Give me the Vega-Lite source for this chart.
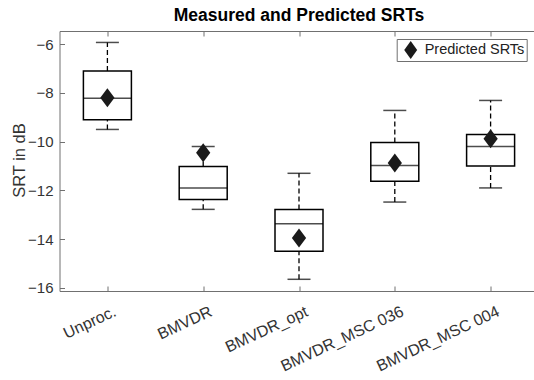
{
  "$schema": "https://vega.github.io/schema/vega-lite/v6.json",
  "width": 479,
  "height": 260,
  "autosize": "none",
  "padding": {"left": 59.5, "top": 31, "right": 0, "bottom": 89},
  "background": "white",
  "title": {"text": "Measured and Predicted SRTs", "fontSize": 17.5, "fontWeight": "bold", "font": "Liberation Sans", "color": "#000000", "anchor": "middle", "offset": 6.5},
  "data": {"values": [
    {"cat": "Unproc.", "lower": -9.5, "q1": -9.1, "median": -8.22, "q3": -7.1, "upper": -5.93, "pred": -8.2},
    {"cat": "BMVDR", "lower": -12.78, "q1": -12.38, "median": -11.9, "q3": -11.02, "upper": -10.2, "pred": -10.46},
    {"cat": "BMVDR_opt", "lower": -15.65, "q1": -14.5, "median": -13.37, "q3": -12.79, "upper": -11.3, "pred": -13.96},
    {"cat": "BMVDR_MSC 036", "lower": -12.48, "q1": -11.63, "median": -10.98, "q3": -10.04, "upper": -8.72, "pred": -10.88},
    {"cat": "BMVDR_MSC 004", "lower": -11.9, "q1": -11.0, "median": -10.2, "q3": -9.71, "upper": -8.31, "pred": -9.88}
  ]},
  "resolve": {"axis": {"x": "independent", "y": "independent"}},
  "layer": [
    {
      "mark": {"type": "rule", "stroke": "#000000", "strokeWidth": 1.3, "strokeDash": [5, 3]},
      "encoding": {
        "x": {"field": "cat", "type": "nominal", "sort": null,
              "scale": {"type": "point", "padding": 0.5},
              "axis": {"orient": "bottom", "title": null, "labelAngle": -25, "labelAlign": "right", "labelBaseline": "top",
                       "labelFont": "Liberation Sans", "labelFontSize": 16, "labelColor": "#333333", "labelOffset": 4,
                       "tickSize": -5, "tickColor": "#707070", "domainColor": "#707070", "labelPadding": 17}},
        "y": {"field": "lower", "type": "quantitative",
              "scale": {"domain": [-16.13, -5.46], "nice": false, "zero": false},
              "axis": {"orient": "left", "values": [-16, -14, -12, -10, -8, -6], "grid": false,
                       "title": "SRT in dB", "titleFont": "Liberation Sans", "titleFontSize": 16.5, "titleFontWeight": "normal", "titleColor": "#333333",
                       "titleX": -40.5, "titleY": 129, "titleBaseline": "middle", "titleAngle": -90,
                       "labelFont": "Liberation Sans", "labelFontSize": 15, "labelColor": "#333333",
                       "tickSize": -5, "tickColor": "#707070", "domainColor": "#707070", "labelPadding": 11.5}},
        "y2": {"field": "q1"}
      }
    },
    {
      "mark": {"type": "rule", "stroke": "#000000", "strokeWidth": 1.3, "strokeDash": [5, 3]},
      "encoding": {
        "x": {"field": "cat", "type": "nominal", "sort": null,
              "axis": {"orient": "top", "title": null, "labels": false, "tickSize": -5, "tickColor": "#707070", "domainColor": "#707070"}},
        "y": {"field": "q3", "type": "quantitative",
              "axis": {"orient": "right", "title": null, "labels": false, "values": [-16, -14, -12, -10, -8, -6], "grid": false, "tickSize": -5, "tickColor": "#707070", "domainColor": "#707070"}},
        "y2": {"field": "upper"}
      }
    },
    {
      "mark": {"type": "tick", "color": "#000000", "size": 23, "thickness": 1.5, "orient": "horizontal"},
      "encoding": {
        "x": {"field": "cat", "type": "nominal", "sort": null, "axis": null},
        "y": {"field": "lower", "type": "quantitative", "axis": null}
      }
    },
    {
      "mark": {"type": "tick", "color": "#000000", "size": 23, "thickness": 1.5, "orient": "horizontal"},
      "encoding": {
        "x": {"field": "cat", "type": "nominal", "sort": null, "axis": null},
        "y": {"field": "upper", "type": "quantitative", "axis": null}
      }
    },
    {
      "mark": {"type": "bar", "fill": "white", "stroke": "#000000", "strokeWidth": 1.5, "size": 48},
      "encoding": {
        "x": {"field": "cat", "type": "nominal", "sort": null, "axis": null},
        "y": {"field": "q1", "type": "quantitative", "axis": null},
        "y2": {"field": "q3"}
      }
    },
    {
      "mark": {"type": "tick", "color": "#000000", "size": 48, "thickness": 1.5, "orient": "horizontal"},
      "encoding": {
        "x": {"field": "cat", "type": "nominal", "sort": null, "axis": null},
        "y": {"field": "median", "type": "quantitative", "axis": null}
      }
    },
    {
      "mark": {"type": "point", "filled": true, "opacity": 1, "size": 361, "shape": "M-0.75,0L0,-1L0.75,0L0,1Z", "strokeWidth": 0},
      "encoding": {
        "x": {"field": "cat", "type": "nominal", "sort": null, "axis": null},
        "y": {"field": "pred", "type": "quantitative", "axis": null},
        "color": {"datum": "Predicted SRTs", "type": "nominal",
                  "scale": {"range": ["#1a1a1a"]},
                  "legend": {"title": null, "orient": "none", "legendX": 337.2, "legendY": 8,
                             "symbolType": "M-0.72,0L0,-1L0.72,0L0,1Z", "symbolSize": 324, "symbolStrokeWidth": 0, "symbolOffset": 3,
                             "fillColor": "white", "strokeColor": "#707070", "padding": 2,
                             "labelFont": "Liberation Sans", "labelFontSize": 14.5, "labelColor": "#222222", "labelOffset": 5}}
      }
    }
  ],
  "config": {"view": {"stroke": null}, "axis": {"domainWidth": 1, "tickWidth": 1}}
}
